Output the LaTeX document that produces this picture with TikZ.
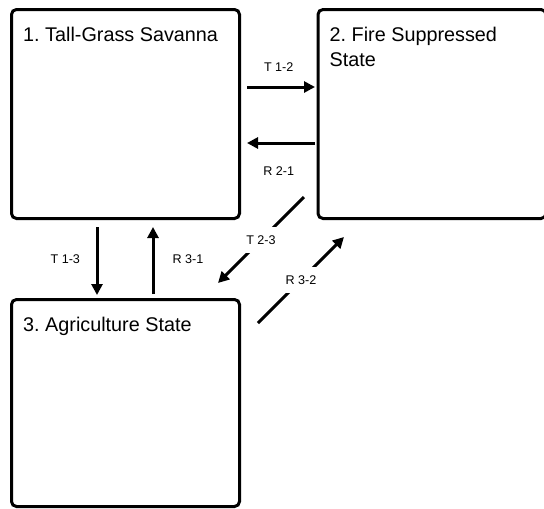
\documentclass[tikz,border=0pt]{standalone}
\usepackage{fontspec}
\setmainfont{Liberation Sans}
\usepackage{xcolor}
\usetikzlibrary{arrows.meta,positioning}
\definecolor{stateInk}{RGB}{0,0,0}
\frenchspacing

\tikzset{
  statebox/.style={draw=stateInk, line width=3pt, rounded corners=5pt,
    minimum width=228pt, minimum height=209pt, inner sep=0pt},
  statetitle/.style={anchor=north west, align=left, inner sep=0pt,
    font=\fontsize{19.8}{25}\selectfont, text=stateInk},
  trans/.style={draw=stateInk, line width=3pt,
    -{Triangle[length=11pt,width=11pt]}},
  translabel/.style={font=\fontsize{12.6}{14}\selectfont, inner sep=1pt, text=stateInk},
  difflabel/.style={translabel, fill=white, inner xsep=1pt, inner ysep=8.5pt}
}

\begin{document}
\begin{tikzpicture}[x=1pt,y=-1pt]
\useasboundingbox (0,0) rectangle (544,509);
\node[statebox] (s1) at (125.5,114) {};
\node[statebox, right=75.5pt of s1] (s2) {};
\node[statebox, minimum height=207pt, below=78pt of s1] (s3) {};

\node[statetitle, below right=19pt and 13pt of s1.north west] (t1) {1. Tall-Grass Savanna};
\node[statetitle, below right=19pt and 13pt of s2.north west] (t2) {2. Fire Suppressed\\State};
\node[statetitle, below right=19pt and 13pt of s3.north west] (t3) {3. Agriculture State};

\draw[trans, shorten <=6pt, shorten >=1.5pt] ([yshift=27pt]s1.east) --
  node[translabel, above=13.5pt] (l12) {T 1-2} ([yshift=27pt]s2.west);
\draw[trans, shorten <=1.5pt, shorten >=6pt] ([yshift=-29pt]s2.west) --
  node[translabel, below=21.5pt] (l21) {R 2-1} ([yshift=-29pt]s1.east);
\draw[trans, shorten <=7pt, shorten >=3pt] ([xshift=-28.5pt]s1.south) --
  node[translabel, left=14.5pt] (l13) {T 1-3} ([xshift=-28.5pt]s3.north);
\draw[trans, shorten <=4pt, shorten >=7pt] ([xshift=27.5pt]s3.north) --
  node[translabel, right=17pt] (l31) {R 3-1} ([xshift=27.5pt]s1.south);
\draw[trans] ([xshift=-12.5pt,yshift=23pt]s2.south west) --
  node[difflabel] (l23) {T 2-3} ([xshift=-23pt,yshift=15pt]s3.north east);
\draw[trans] ([xshift=17pt,yshift=-25pt]s3.north east) --
  node[difflabel] (l32) {R 3-2} ([xshift=27.5pt,yshift=-17pt]s2.south west);
\end{tikzpicture}
\end{document}
